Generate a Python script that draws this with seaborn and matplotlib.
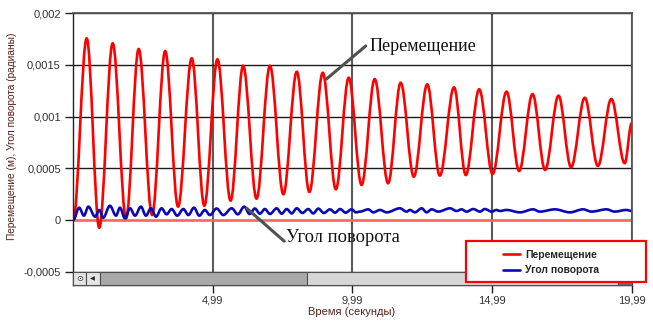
import numpy as np
import pandas as pd
import matplotlib
matplotlib.use('Agg')
import matplotlib.pyplot as plt
import matplotlib.transforms as mtransforms
from matplotlib.patches import Rectangle, PathPatch
from matplotlib.path import Path
import seaborn as sns

#Displacement (m): start, then alternating peaks / troughs
disp_t = [0, 0.48, 0.93, 1.41, 1.89, 2.34, 2.82, 3.29, 3.75, 4.24, 4.69, 5.16, 5.63, 6.08,
          6.56, 7.04, 7.52, 8.00, 8.45, 8.93, 9.40, 9.86, 10.32, 10.79, 11.27, 11.72, 12.19,
          12.67, 13.12, 13.63, 14.05, 14.53, 15.01, 15.51, 15.96, 16.44, 16.89, 17.37, 17.82,
          18.31, 18.78, 19.26, 19.74, 19.99]
disp_v = [0, 0.001758, -0.000075, 0.00171, 0.000016, 0.001655, 0.000048, 0.001635, 0.000129,
          0.001565, 0.000138, 0.001555, 0.000187, 0.001493, 0.000206, 0.001493, 0.000248,
          0.001435, 0.000271, 0.001425, 0.000297, 0.001377, 0.000339, 0.001364, 0.000355,
          0.001329, 0.000419, 0.001313, 0.000429, 0.001284, 0.000435, 0.001265, 0.000445,
          0.001242, 0.000474, 0.001219, 0.000484, 0.001203, 0.00051, 0.001183, 0.000523,
          0.001171, 0.000549, 0.000936]

#Rotation angle (rad): small wobble
rot_t = [0, 0.21, 0.38, 0.54, 0.78, 0.93, 1.07, 1.31, 1.53, 1.67, 1.85, 2.03, 2.21, 2.42,
         2.60, 2.78, 2.96, 3.16, 3.34, 3.52, 3.72, 3.94, 4.12, 4.32, 4.51, 4.71, 4.89, 5.13,
         5.37, 5.67, 5.89, 6.12, 6.31, 6.50, 6.68, 6.86, 7.04, 7.28, 7.46, 7.64, 7.82, 8.00,
         8.20, 8.41, 8.59, 8.77, 8.97, 9.19, 9.37, 9.55, 9.75, 9.96, 10.12, 10.26, 10.56,
         10.74, 10.98, 11.22, 11.69, 11.93, 12.05, 12.23, 12.47, 12.65, 12.83, 13.06, 13.49,
         13.72, 13.90, 14.08, 14.32, 14.56, 14.73, 14.98, 15.15, 15.27, 15.51, 15.99, 16.46,
         16.70, 17.24, 17.78, 18.25, 18.55, 19.09, 19.38, 19.80, 19.99]
rot_v = [0, 0.000119, 0.000042, 0.000129, 0.000032, 0.000097, 0.000022, 0.000138, 0.000042,
         0.000119, 0.000016, 0.000113, 0.000042, 0.000129, 0.000042, 0.000113, 0.000032,
         0.000113, 0.000055, 0.000106, 0.000042, 0.000106, 0.000048, 0.000119, 0.000042,
         0.000097, 0.000048, 0.000111, 0.000048, 0.000113, 0.000055, 0.000129, 0.000058,
         0.000111, 0.000061, 0.000106, 0.000058, 0.000113, 0.000061, 0.000106, 0.000064,
         0.000113, 0.000068, 0.000106, 0.000064, 0.000110, 0.000068, 0.000103, 0.000071,
         0.000106, 0.000071, 0.000103, 0.000074, 0.000081, 0.000103, 0.000074, 0.000097,
         0.000074, 0.000113, 0.000081, 0.000097, 0.000074, 0.000113, 0.000074, 0.000103,
         0.000081, 0.000113, 0.000087, 0.000103, 0.000081, 0.000106, 0.000081, 0.000106,
         0.000081, 0.000097, 0.000087, 0.000097, 0.000074, 0.000103, 0.000081, 0.000103,
         0.000074, 0.000103, 0.000081, 0.000103, 0.000081, 0.000097, 0.000087]

series_names = ['Перемещение', 'Угол поворота']
series_colors = ['#ff0000', '#0a0ab4']
ytick_vals = [-0.0005, 0, 0.0005, 0.001, 0.0015, 0.002]
ytick_labels = ['-0,0005', '0', '0,0005', '0,001', '0,0015', '0,002']
xtick_vals = [4.99, 9.99, 14.99, 19.99]
xtick_labels = ['4,99', '9,99', '14,99', '19,99']

df = pd.concat([
    pd.DataFrame({'t': disp_t, 'v': disp_v, 'series': series_names[0]}),
    pd.DataFrame({'t': rot_t, 'v': rot_v, 'series': series_names[1]}),
])


def smooth_path(x, y, k=0.36):
    #rounded curve through the plotted points (flat tangent at each extremum)
    verts = [(x[0], y[0])]
    codes = [Path.MOVETO]
    for i in range(1, len(x)):
        dx = x[i] - x[i - 1]
        verts += [(x[i - 1] + k * dx, y[i - 1]), (x[i] - k * dx, y[i]), (x[i], y[i])]
        codes += [Path.CURVE4] * 3
    return Path(verts, codes)


sns.set_style('white')
plt.rcParams['font.family'] = ['Liberation Sans', 'DejaVu Sans']

fig = plt.figure(figsize=(6.53, 3.23), dpi=100)
W, H = 653, 323
ax = fig.add_axes([73.3 / W, 1 - 285 / H, (631.7 - 73.3) / W, (285 - 13.3) / H])

#zero line in light red
ax.axhline(0, color='#ff6464', lw=1.8, zorder=1.5)

sns.lineplot(data=df, x='t', y='v', hue='series', palette=dict(zip(series_names, series_colors)),
             estimator=None, sort=False, lw=1.9, ax=ax, zorder=2)
handles, labels = ax.get_legend_handles_labels()
ax.get_legend().remove()

#draw the seaborn lines as rounded curves
data_lines = [l for l in ax.lines[1:] if len(l.get_xdata()) > 2]
for line in data_lines:
    x, y = line.get_data()
    ax.add_patch(PathPatch(smooth_path(np.asarray(x), np.asarray(y)), facecolor='none',
                           edgecolor=line.get_color(), lw=1.9, joinstyle='round',
                           capstyle='round', zorder=2))
    line.set_visible(False)

ax.set_xlim(0, 19.99)
ax.set_ylim(-0.000629, 0.002)
ax.set_xticks(xtick_vals)
ax.set_xticklabels(xtick_labels)
ax.set_yticks(ytick_vals)
ax.set_yticklabels(ytick_labels)
ax.tick_params(axis='both', direction='out', length=6, width=1, color='#222222',
               labelsize=8, labelcolor='#333333', pad=3)
ax.tick_params(axis='x', pad=1.5)
ax.tick_params(axis='both', which='both', bottom=True, left=True)
ax.set_xlabel('')
ax.set_ylabel('')

ax.xaxis.grid(True, color='#5a5a5a', lw=1.5)
ax.yaxis.grid(True, color='#1a1a1a', lw=1.0)
ax.set_axisbelow(True)
for side in ['left', 'bottom']:
    ax.spines[side].set_color('#222222')
    ax.spines[side].set_linewidth(1)
for side in ['top', 'right']:
    ax.spines[side].set_color('#555555')
    ax.spines[side].set_linewidth(1.3)

#scrollbar strip at the bottom of the plot area
trans = mtransforms.blended_transform_factory(ax.transAxes, ax.transAxes)
sb_h = (285 - 271.7) / (285 - 13.3)
scroll_parts = [(0.0, 0.0227, '#e4e4e4'), (0.0227, 0.0478, '#e4e4e4'),
                (0.0478, 0.418, '#a9a9a9'), (0.418, 0.9755, '#d6d6d6'), (0.9755, 1.0, '#6a6a6a')]
for x0, x1, c in scroll_parts:
    ax.add_patch(Rectangle((x0, 0), x1 - x0, sb_h, transform=trans, facecolor=c,
                           edgecolor='#505050', lw=0.8, zorder=3, clip_on=False))
ax.text(0.0113, sb_h / 2, '⊙', transform=trans, ha='center', va='center', fontsize=6,
        color='#404040', family='DejaVu Sans', zorder=4)
ax.text(0.035, sb_h / 2, '◀', transform=trans, ha='center', va='center', fontsize=4.5,
        color='#202020', family='DejaVu Sans', zorder=4)

#callouts
ax.annotate('', xy=(9.06, 0.001364), xytext=(10.47, 0.001684),
            arrowprops=dict(arrowstyle='-', lw=2.2, color='#505050', shrinkA=0, shrinkB=0))
ax.text(10.6, 0.001674, 'Перемещение', ha='left', va='center', fontsize=13,
        family='Liberation Serif', color='#111111')
ax.annotate('', xy=(6.21, 0.000113), xytext=(7.55, -0.000205),
            arrowprops=dict(arrowstyle='-', lw=2.2, color='#505050', shrinkA=0, shrinkB=0))
ax.text(7.62, -0.000174, 'Угол поворота', ha='left', va='center', fontsize=13.3,
        family='Liberation Serif', color='#111111')

fig.text(12 / W, 1 - 136 / H, 'Перемещение (м), Угол поворота (радианы)', rotation=90,
         ha='center', va='center', fontsize=7.3, color='#5a1e1e')
fig.text(352 / W, 1 - 312 / H, 'Время (секунды)', ha='center', va='center', fontsize=8,
         color='#5a1e1e')

#legend box with red frame
fig.add_artist(Rectangle((466 / W, 1 - 282 / H), 180 / W, 41 / H, transform=fig.transFigure,
                         facecolor='white', edgecolor='#ff0000', lw=1.6, zorder=4))
leg = fig.legend(handles, labels, loc='center left', bbox_to_anchor=(503 / W, 1 - 262.6 / H),
                 frameon=False, borderpad=0, borderaxespad=0, handlelength=1.65,
                 handletextpad=0.45, labelspacing=0.55,
                 prop={'size': 7.5, 'weight': 'bold', 'family': 'Liberation Sans'})
leg.set_zorder(6)

fig.savefig('out.png', dpi=100)
